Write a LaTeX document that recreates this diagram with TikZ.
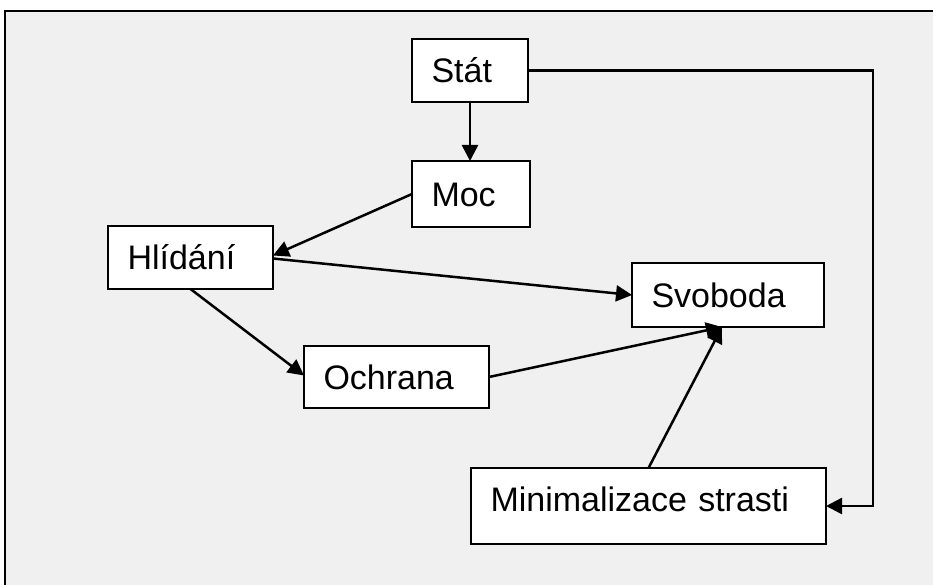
\documentclass[tikz,border=0pt]{standalone}
\usepackage{fontspec}
\setmainfont{Liberation Sans}
\usetikzlibrary{arrows.meta}
\definecolor{panel}{HTML}{F0F0F0}
\tikzset{
  conceptbox/.style={draw=black, line width=2pt, fill=white, outer sep=0pt,
    inner xsep=19.5pt, inner ysep=0pt, align=left,
    text height=24.5pt, text depth=0pt,
    font=\fontsize{34pt}{40pt}\selectfont},
  link/.style={draw=black, line width=2.5pt,
    -{Triangle[length=16pt,width=16pt]}},
}
\newcommand{\conceptat}[6]{% name, left, top, width, height, text
  \node[conceptbox, minimum width=#4pt, minimum height=#5pt,
        text width=#4pt-39pt] (#1) at (#2+#4/2,#3+#5/2) {#6};}
\begin{document}
\begin{tikzpicture}[x=1pt,y=-1pt]
  \useasboundingbox (0,0) rectangle (933,585);
  % white page, then the grey panel running off the lower right
  \fill[white] (-10,-10) rectangle (950,600);
  \fill[panel] (5,11) rectangle (950,600);
  \draw[line width=2.5pt] (5,600) -- (5,11) -- (950,11);
  % concepts
  \conceptat{stat}{412}{39}{116}{63}{Stát}
  \conceptat{moc}{412}{161}{118}{66}{Moc}
  \conceptat{hlidani}{108}{226}{165}{63}{Hlídání}
  \conceptat{ochrana}{304}{346}{185}{62}{Ochrana}
  \conceptat{svoboda}{632}{263}{192}{64}{Svoboda}
  \node[conceptbox, minimum width=355pt, minimum height=76pt,
        text width=316pt, text depth=13pt] (minim) at (648.5,506)
        {Minimalizace strasti};
  \coordinate (turn) at (873,300);
  % connectors
  \draw[link] (stat.south) -- (stat.south |- moc.north);
  \draw[link] (moc.west) -- ([yshift=2pt]hlidani.east);
  \draw[link] ([yshift=-1pt]hlidani.east) -- (svoboda.west);
  \draw[link] (hlidani.south) -- ([yshift=1.5pt]ochrana.west);
  \draw[link] (ochrana.east) -- ([xshift=-6pt]svoboda.south);
  \draw[link] (minim.north) -- ([xshift=-6pt]svoboda.south);
  \draw[link] (stat.east) -| (turn) |- (minim.east);
\end{tikzpicture}
\end{document}
